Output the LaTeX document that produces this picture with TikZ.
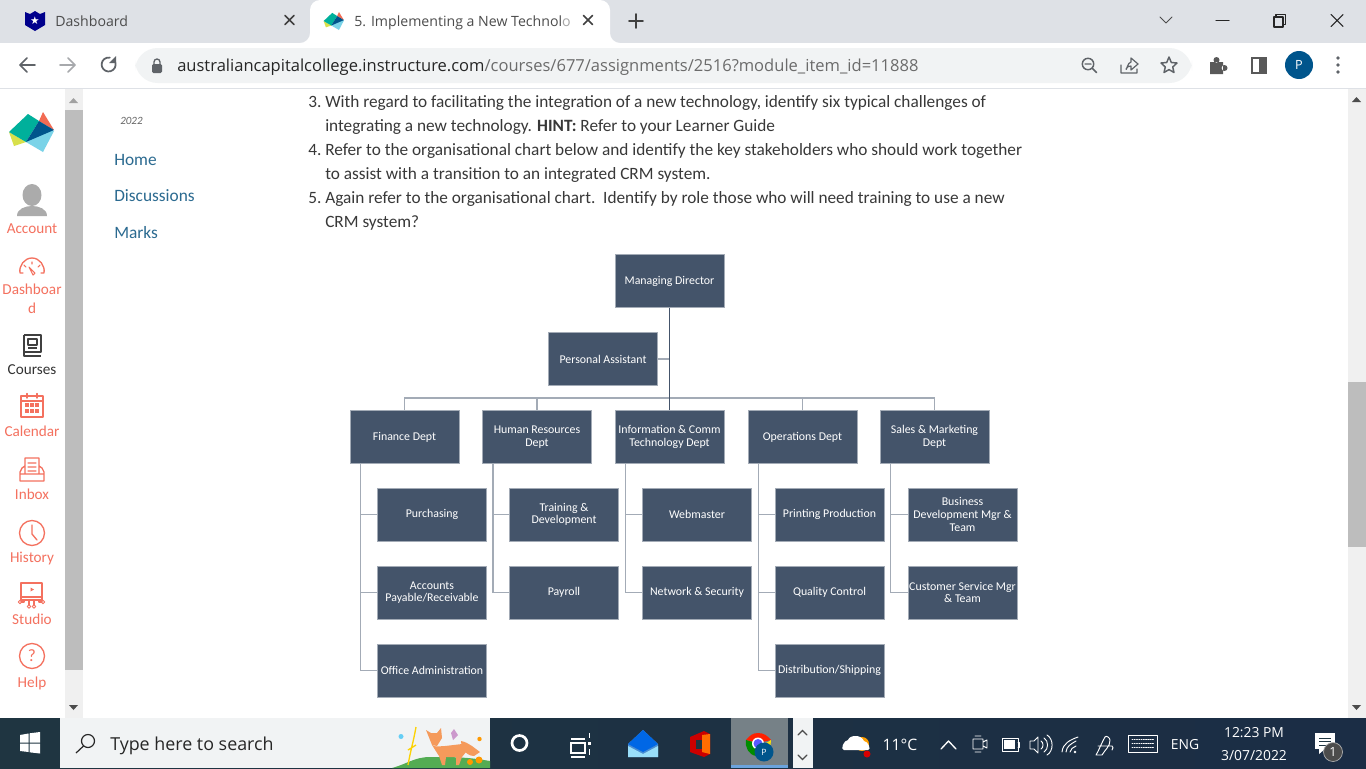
\documentclass[tikz,border=0pt]{standalone}
\usepackage{fontspec}
\setmainfont{Carlito}
\newfontfamily\uifont{Open Sans}
\newfontfamily\symfont{DejaVu Sans}
\definecolor{tabgrey}{HTML}{DEE1E6}
\definecolor{pillgrey}{HTML}{F1F3F4}
\definecolor{boxblue}{HTML}{44546A}
\definecolor{boxedge}{HTML}{A3ABB6}
\definecolor{coral}{HTML}{F4715F}
\definecolor{navlink}{HTML}{2B6A90}
\definecolor{barfill}{HTML}{1F3541}
\definecolor{icongrey}{HTML}{5F6368}
\definecolor{thumbgrey}{HTML}{BDBDBD}
\definecolor{trackgrey}{HTML}{F0F0F0}
\definecolor{trayblue}{HTML}{1B2D45}
\definecolor{logoteal}{HTML}{00B09B}
\definecolor{logodark}{HTML}{00558C}
\definecolor{logosky}{HTML}{7AD3E8}
\definecolor{logored}{HTML}{F26B53}
\definecolor{logolime}{HTML}{D8E04B}
\definecolor{foxorange}{HTML}{F59A5B}
\tikzset{logopic/.pic={
  \fill[logosky] (54,131) -- (43,152) -- (26,142) -- (39,125) -- cycle;
  \fill[logolime] (9,132) -- (26,142) -- (14,146) -- cycle;
  \fill[logoteal] (9,132) -- (28,114) -- (39,121) -- (26,142) -- cycle;
  \fill[logored] (43,112) -- (54,130) -- (39,121) -- cycle;
  \fill[logodark] (39,121) -- (54,130) -- (26,142) -- cycle;
}}
\begin{document}
\begin{tikzpicture}[x=0.75pt,y=-0.75pt]
\tikzstyle{orgbox}=[fill=boxblue,draw=boxedge,line width=0.5pt,minimum width=81.5pt,minimum height=40pt,inner sep=0pt,outer sep=0pt,text=white,align=center,font=\fontsize{8.9}{9.5}\selectfont]
\tikzstyle{orgline}=[draw=boxedge,line width=1.1pt]
\tikzstyle{mainline}=[draw=boxblue,line width=1.2pt]
\tikzstyle{pagetext}=[anchor=base west,inner sep=0pt,text=black!78,font=\fontsize{12.95}{14}\selectfont]
\tikzstyle{navtext}=[anchor=base west,inner sep=0pt,text=navlink,font=\fontsize{13}{14}\selectfont]
\tikzstyle{sidetext}=[anchor=base,inner sep=0pt,text=coral,font=\fontsize{11.4}{12}\selectfont]
\tikzstyle{uitext}=[anchor=base west,inner sep=0pt,font=\uifont\fontsize{10.6}{12}\selectfont]
\tikzstyle{traytext}=[anchor=base,inner sep=0pt,text=white,font=\uifont\fontsize{10.4}{12}\selectfont]
\tikzstyle{icon}=[draw=icongrey,line width=1.1pt,line cap=round,line join=round]
\tikzstyle{sideicon}=[draw=coral,line width=1pt,line cap=round,line join=round]
\tikzstyle{trayicon}=[draw=white,line width=0.7pt,line cap=round,line join=round]
\useasboundingbox (0,0) rectangle (1366,768);
\fill[white] (0,0) rectangle (1366,768);
% browser frame
\fill[tabgrey] (0,0) rectangle (1366,43);
\fill[white] (300,43) to[out=0,in=-90] (310,33) -- (310,10) to[out=90,in=180] (320,0) -- (600,0) to[out=0,in=90] (610,10) -- (610,33) to[out=-90,in=180] (620,43) -- cycle;
\fill[white] (0,43) rectangle (1366,88);
\draw[tabgrey,line width=0.8pt] (0,88.5) -- (1366,88.5);
\fill[pillgrey] (135,48) [rounded corners=17pt] rectangle (1192,83);
\fill[blue!55!black] (25,12) -- (30,14) -- (35,11) -- (40,14) -- (45,12) -- (45,25) -- (35,31) -- (25,25) -- cycle;
\node[inner sep=0pt,text=white,font=\symfont\fontsize{8}{8}\selectfont] (tabstar) at (35,20.5) {★};
\node[uitext,text=black!70] (tabone) at (55,26) {Dashboard};
\node[uitext,text=black!70] (tabtwo) at (354,26) {5. Implementing a New Technol\textcolor{black!35}{o}};
\begin{scope}[shift={(319.6,-38.4)},scale=0.45]
\pic[transform shape] at (0,0) {logopic};
\end{scope}
\draw[icon,draw=black!75,line width=1.2pt] (285,15.5) -- (294,24.5) (285,24.5) -- (294,15.5) (583.5,15.5) -- (592.5,24.5) (583.5,24.5) -- (592.5,15.5);
\draw[icon,draw=black!75,line width=1.4pt] (629,21) -- (643,21) (636,14) -- (636,28);
\draw[icon,draw=black!70,line width=0.7pt] (1160,17) -- (1166,23) -- (1172,17);
\draw[icon,draw=black!85,line width=0.8pt] (1216,20.5) -- (1229,20.5);
\draw[icon,draw=black!85,line width=0.8pt] (1274,17) rectangle (1283,27) (1276,17) -- (1276,14.5) -- (1285.5,14.5) -- (1285.5,24.5) -- (1283,24.5);
\draw[icon,draw=black!85,line width=0.8pt] (1331,14.5) -- (1343,26.5) (1331,26.5) -- (1343,14.5);
\draw[icon,line width=1.3pt] (35,65) -- (20,65) (27,58) -- (20,65) -- (27,72);
\draw[icon,draw=icongrey!55,line width=1.3pt] (60,65) -- (75,65) (68,58) -- (75,65) -- (68,72);
\draw[icon,line width=1.3pt] (114,60) arc (-40:280:7);
\fill[icongrey] (116,56) -- (116,63) -- (109,63) -- cycle;
\fill[icongrey] (152,64) [rounded corners=1pt] rectangle (162,73);
\draw[icongrey,line width=1pt] (154,64) -- (154,62) arc (180:360:3) -- (160,64);
\node[uitext,text=black!85,font=\uifont\fontsize{12.4}{14}\selectfont] (urlbar) at (177,71.5) {australiancapitalcollege.instructure.com\textcolor{black!58}{/courses/677/assignments/2516?module\_item\_id=11888}};
\draw[icon] (1088,64) circle (5.7) (1092.5,68.5) -- (1096.5,72.5) (1085,64) -- (1091,64);
\draw[icon,line width=0.9pt] (1121,65) -- (1121,73) -- (1137,73) -- (1137,69) (1126,69) to[out=-90,in=180] (1131,62) -- (1131,58) -- (1138,64) -- (1131,70) -- (1131,66) to[out=180,in=70] (1126,69);
\draw[icon] (1169,57) -- (1171.3,62.5) -- (1177,63) -- (1172.7,67) -- (1174,72.5) -- (1169,69.6) -- (1164,72.5) -- (1165.3,67) -- (1161,63) -- (1166.7,62.5) -- cycle;
\fill[black!65] (1210,62) rectangle (1223,74) (1216.5,60) circle (3) (1224.5,68) circle (3);
\draw[black!65,line width=1.6pt] (1252,58) rectangle (1266,73);
\fill[black!65] (1259,58) rectangle (1266,73);
\fill[logodark] (1299,65) circle (14);
\node[inner sep=0pt,text=white,font=\uifont\fontsize{9.5}{10}\selectfont] (avatar) at (1299,65) {P};
\fill[icongrey] (1338,58) circle (1.8) (1338,65) circle (1.8) (1338,72) circle (1.8);
% page body
\fill[trackgrey] (65,89) rectangle (83,718);
\fill[thumbgrey] (65,110) rectangle (83,670);
\fill[thumbgrey!85!black] (69,103) -- (73.5,98) -- (78,103) -- cycle;
\fill[black!70] (69,705) -- (73.5,710) -- (78,705) -- cycle;
\fill[trackgrey] (1348,89) rectangle (1366,718);
\fill[thumbgrey] (1348,382) rectangle (1366,547);
\fill[black!70] (1352,102) -- (1356.5,97) -- (1361,102) -- cycle;
\fill[black!70] (1352,705) -- (1356.5,710) -- (1361,705) -- cycle;
\pic at (0,0) {logopic};
\fill[black!33] (32,195) ellipse (9.5 and 11);
\fill[black!33] (17,216) to[out=90,in=180] (32,206) to[out=0,in=90] (47,216) -- cycle;
\node[sidetext] (account) at (32,233) {Account};
\draw[sideicon] (20,273) -- (23,273) (41,273) -- (44,273) (20,273) to[out=100,in=180] (32,258) to[out=0,in=80] (44,273);
\draw[sideicon,line width=0.8pt] (29,267) -- (33,275) -- (35,273) -- cycle (24,265) -- (26,267) (32,262) -- (32,264) (40,265) -- (38,267);
\node[sidetext] (dash) at (32,294) {Dashboar};
\node[sidetext] (dashb) at (32,313) {d};
\draw[black!75,line width=1.1pt,line join=round] (24,335) -- (41,335) -- (41,352) -- (24,352) -- (24,335) (24,352) -- (24,356) -- (41,356) (28,339) rectangle (37,345) (28,348) -- (37,348);
\node[sidetext,text=black!80] (courses) at (32,374) {Courses};
\draw[sideicon] (21,396) rectangle (43,417) (21,401) -- (43,401) (27,393.5) -- (27,398) (37,393.5) -- (37,398);
\foreach \px in {27,32,37} \foreach \py in {405,411} \fill[coral] (\px-1.6,\py-1.6) rectangle (\px+1.6,\py+1.6);
\node[sidetext] (calendar) at (32,436) {Calendar};
\draw[sideicon] (25,458) rectangle (39,474) (28,463) -- (36,463) (28,467) -- (36,467) (28,471) -- (36,471) (25,466) -- (22,468) -- (20,472) -- (20,481) -- (44,481) -- (44,472) -- (42,468) -- (39,466) (20,474) -- (44,474);
\node[sidetext] (inbox) at (32,499) {Inbox};
\draw[sideicon] (32,533) circle (12.5) (32,525) -- (32,534) -- (37,540);
\node[sidetext] (history) at (32,562) {History};
\draw[sideicon] (21,583) rectangle (42,600) (21,597) -- (42,597) (24,600) -- (24,602) -- (21,602) (29,600) -- (29,605) (34,600) -- (34,605) (39,600) -- (39,602) -- (42,602);
\draw[sideicon,line width=0.7pt] (20,602) circle (1.7) (29,606.5) circle (1.7) (34,606.5) circle (1.7) (43,602) circle (1.7);
\fill[coral] (30.5,587.5) -- (34,589.5) -- (30.5,591.5) -- cycle;
\node[sidetext] (studio) at (32,624) {Studio};
\draw[sideicon] (32,656) circle (12.5);
\node[inner sep=0pt,text=coral,font=\fontsize{13}{13}\selectfont] (helpmark) at (32,656) {?};
\node[sidetext] (help) at (32,687) {Help};
\node[anchor=base west,inner sep=0pt,text=black!60,font=\itshape\fontsize{8.3}{10}\selectfont] (year) at (120,124) {2022};
\node[navtext] (home) at (114,165) {Home};
\node[navtext] (disc) at (114,201) {Discussions};
\node[navtext] (marks) at (114,238) {Marks};
\node[pagetext] (qthreenum) at (308,107) {3.};
\node[pagetext] (qthreea) at (325,107) {With regard to facilitating the integration of a new technology, identify six typical challenges of};
\node[pagetext] (qthreeb) at (325,131) {integrating a new technology. \textbf{HINT:} Refer to your Learner Guide};
\node[pagetext] (qfournum) at (308,155) {4.};
\node[pagetext] (qfoura) at (325,155) {Refer to the organisational chart below and identify the key stakeholders who should work together};
\node[pagetext] (qfourb) at (325,179) {to assist with a transition to an integrated CRM system.};
\node[pagetext] (qfivenum) at (308,203) {5.};
\node[pagetext] (qfivea) at (325,203) {Again refer to the organisational chart.\ \ Identify by role those who will need training to use a new};
\node[pagetext] (qfiveb) at (325,227) {CRM system?};
% org chart
\node [orgbox] (md) at (669.5,281) {Managing Director};
\node [orgbox] (pa) at (603,359) {Personal Assistant};
\foreach \name/\xpos/\deptlabel in {fin/404.5/Finance Dept, hr/537/Human Resources\\Dept, ict/669.5/Information \& Comm\\Technology Dept, ops/802.5/Operations Dept, sal/934.5/Sales \& Marketing\\Dept}
  \node [orgbox] (\name) at (\xpos,437) {\deptlabel};
\foreach \name/\xpos/\ypos/\sublabel in {fina/432/514.5/Purchasing, finb/432/592.5/{Accounts\\Payable/Receivable}, finc/432/670.5/Office Administration, hra/564/514.5/Training \&\\Development, hrb/564/592.5/Payroll, icta/697/514.5/Webmaster, ictb/697/592.5/Network \& Security, opsa/829.5/514.5/Printing Production, opsb/829.5/592.5/Quality Control, opsc/829.5/670.5/{Distribution/Shipping}, sala/962.5/514.5/Business\\Development Mgr \&\\Team, salb/962.5/592.5/Customer Service Mgr\\\& Team}
  \node [orgbox] (\name) at (\xpos,\ypos) {\sublabel};
\coordinate (bus) at (669.5,398);
\draw[orgline] (fin.north) -- (fin.north |- bus) -- (sal.north |- bus) -- (sal.north);
\foreach \name in {hr,ops} \draw[orgline] (\name.north) -- (\name.north |- bus);
\draw[orgline] (pa.east) -- (pa.east -| md.south);
\draw[mainline] (md.south) -- (ict.north);
\foreach \name/\subname in {fin/fina,fin/finb,fin/finc,hr/hra,hr/hrb,ict/icta,ict/ictb,ops/opsa,ops/opsb,ops/opsc,sal/sala,sal/salb} \draw[orgline] (\name.south west) ++(10.5,0) |- (\subname.west);
% taskbar
\fill[left color=barfill,right color=trayblue] (0,718) rectangle (1366,768);
\fill[white] (20,735) -- (28.5,733.5) -- (28.5,742.5) -- (20,742.5) -- cycle (29.5,733.3) -- (40,732) -- (40,742.5) -- (29.5,742.5) -- cycle (20,743.5) -- (28.5,743.5) -- (28.5,752) -- (20,751) -- cycle (29.5,743.5) -- (40,743.5) -- (40,753.5) -- (29.5,752.3) -- cycle;
\fill[pillgrey] (60,718) rectangle (490,768);
\draw[black!85,line width=0.9pt] (88,741) circle (6.5) (83.5,746) -- (76,753);
\node[uitext,text=black!85,font=\uifont\fontsize{13.4}{14}\selectfont] (search) at (110,750) {Type here to search};
\fill[green!35!gray] (392,768) to[out=15,in=180] (430,757) to[out=0,in=170] (490,761) -- (490,768) -- cycle;
\draw[yellow!70!orange,line width=1pt] (408,765) to[out=80,in=-100] (416,727) (408,750) -- (416,745);
\fill[foxorange] (432,745) to[out=-30,in=180] (445,746) -- (462,744) to[out=-20,in=100] (466,752) -- (462,757) -- (459,765) -- (456,765) -- (456,757) -- (446,757) -- (445,765) -- (442,765) -- (439,756) -- cycle;
\fill[foxorange] (426,730) -- (431,733) -- (437,733) -- (441,728) -- (442,738) -- (437,746) -- (432,745) -- cycle;
\fill[foxorange] (461,741) to[out=-10,in=150] (472,746) -- (480,752) -- (474,756) to[out=180,in=-30] (462,750) -- cycle;
\fill[violet!40!white] (454,729) -- (458,735) -- (453,740) -- (451,733) -- cycle;
\fill[orange!80!yellow] (470,762) circle (3) (479,760) circle (3.5) (479.5,739) circle (2.2);
\fill[cyan!60!white] (401,736.5) circle (2.5);
\draw[white,line width=2pt] (519.5,743) circle (7.5);
\draw[white,line width=0.9pt] (571,743) rectangle (585,753) (571,739) -- (585,739) (571,757) -- (585,757) (589.5,733) -- (589.5,738) (589.5,749) -- (589.5,755);
\fill[white] (588,742) rectangle (591,745);
\fill[cyan!55!blue!75!white] (628,744) -- (643,730) -- (658,744) -- (658,757) -- (628,757) -- cycle;
\fill[blue!55!cyan!90!black] (628,744) -- (643,730) -- (658,744) -- (643,752) -- cycle;
\fill[cyan!40!white] (628,746) -- (643,754) -- (658,746) -- (658,757) -- (628,757) -- cycle;
\fill[red!80!black] (690,737) -- (704,731) -- (710,734) -- (710,754) -- (704,757) -- (690,752) -- cycle;
\fill[orange!85!red] (702,735) -- (710,734) -- (710,754) -- (702,752) -- cycle;
\fill[barfill] (696,740) rectangle (702,749);
\fill[black!60!cyan!35!gray] (731,718) rectangle (788,765);
\fill[cyan!60!blue!60!white] (731,765) rectangle (788,768);
\fill[red!75!orange] (758,743) -- (746,740) to[out=50,in=180] (758,733) to[out=0,in=130] (771,740) -- cycle;
\fill[green!55!black] (746,740) to[out=-100,in=170] (756,756) -- (763,745) -- cycle;
\fill[yellow!85!orange] (771,740) -- (770,750) -- (756,756) -- (763,745) -- cycle;
\fill[white] (758,743.5) circle (6);
\fill[blue!65!white] (758,743.5) circle (4.5);
\fill[logodark] (764,752) circle (9.5);
\node[inner sep=0pt,text=white,font=\uifont\fontsize{6.5}{7}\selectfont] (chromep) at (764,752) {P};
\fill[pillgrey] (793,718) rectangle (813,768);
\draw[black!70,line width=1pt,line cap=round] (798,735) -- (802.5,730.5) -- (807,735) (798,755) -- (802.5,759.5) -- (807,755);
\fill[orange!75!yellow] (862,744) circle (7);
\fill[white] (844,750) to[out=180,in=180] (848,740) to[out=70,in=180] (856,736) to[out=0,in=120] (864,741) to[out=0,in=0] (868,750) -- cycle;
\fill[red!85!black] (867,754) circle (3.5);
\node[traytext,font=\uifont\fontsize{11.8}{14}\selectfont] (temp) at (900,750) {11°C};
\draw[trayicon,line width=1pt] (941,749) -- (948.5,741) -- (956,749);
\draw[trayicon] (973,739) rectangle (983,749) (983,742) -- (987,740) -- (987,748) -- (983,746) (975,736) -- (981,736) (975,752) -- (981,752);
\fill[white] (1004,740) rectangle (1015,749);
\draw[trayicon] (1002,738) rectangle (1018,751) (1018,742) -- (1019.5,742) -- (1019.5,747) -- (1018,747);
\draw[trayicon] (1030,741) -- (1034,741) -- (1038,737) -- (1038,753) -- (1034,749) -- (1030,749) -- cycle (1041,741) to[out=-30,in=30] (1041,749) (1044,738) to[out=-30,in=30] (1044,752) (1047,735) to[out=-30,in=30] (1047,755);
\draw[trayicon] (1062,752) to[out=85,in=200] (1078,737) (1066,752) to[out=85,in=210] (1076,741) (1070,752) to[out=85,in=210] (1076,746);
\fill[white] (1075,752) circle (1.3);
\draw[trayicon] (1096,755) to[out=60,in=-120] (1105,737) to[out=60,in=90] (1110,740) to[out=-90,in=60] (1102,755) -- (1096,755) (1098,746) -- (1112,746) to[out=0,in=45] (1112,750);
\draw[trayicon] (1128.5,735) rectangle (1157,752);
\foreach \py in {739,743,747} \draw[trayicon,densely dotted] (1132,\py) -- (1154,\py);
\node[traytext,font=\uifont\fontsize{10.4}{12}\selectfont] (lang) at (1185,749) {ENG};
\node[traytext] (clock) at (1254,737) {12:23 PM};
\node[traytext] (cdate) at (1254,760) {3/07/2022};
\fill[white] (1315,733) rectangle (1335,749);
\fill[white] (1319,749) -- (1325,749) -- (1319,754) -- cycle;
\draw[barfill,line width=0.7pt] (1319,738) -- (1331,738) (1319,741.5) -- (1331,741.5) (1319,745) -- (1328,745);
\fill[black!70] (1333,752) circle (9.5);
\draw[white!70!black,line width=0.5pt] (1333,752) circle (9.5);
\node[inner sep=0pt,text=white,font=\uifont\fontsize{9.5}{10}\selectfont] (badge) at (1333,752) {1};
\end{tikzpicture}
\end{document}
